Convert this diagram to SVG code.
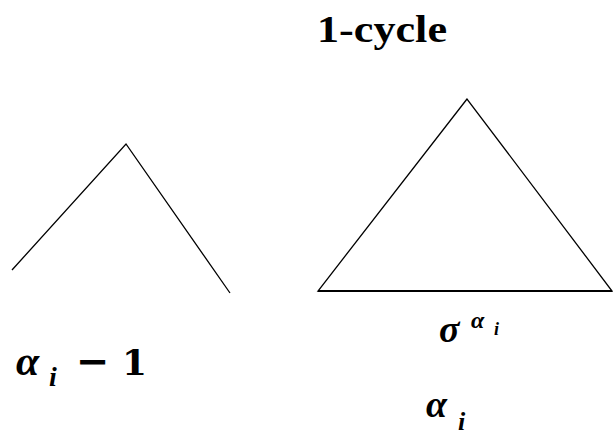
<svg xmlns="http://www.w3.org/2000/svg" width="613" height="436" viewBox="0 0 613 436">
<style>
.ln{fill:none;stroke:#000;stroke-width:1.3;stroke-linejoin:miter}
.s{font-family:'Liberation Serif','Times New Roman',Times,serif;font-weight:bold;fill:#000}
.d{font-family:'DejaVu Serif',serif;font-weight:bold;fill:#000}
</style>
<rect width="613" height="436" fill="#fff"/>
<g id="title"><text class="s" x="317" y="42" font-size="38" textLength="130" lengthAdjust="spacingAndGlyphs">1-cycle</text></g>
<g id="connectors">
<polyline class="ln" points="12,270 126,144 230,293"/>
<polygon class="ln" points="467,99 318,291 612,291"/>
<line x1="318" y1="291" x2="612" y2="291" stroke="#000" stroke-width="2"/>
</g>
<g id="label-left">
<text class="s" font-style="italic" x="16" y="375" font-size="42">α</text>
<text class="s" font-style="italic" x="49" y="386" font-size="28">i</text>
<text class="d" x="76" y="375" font-size="40">−</text>
<text class="d" x="122" y="375" font-size="36">1</text>
</g>
<g id="label-sigma" class="s" font-style="italic">
<text x="439" y="342" font-size="38">σ</text>
<text x="471" y="328" font-size="24">α</text>
<text x="494" y="335" font-size="18">i</text>
</g>
<g id="label-alpha" class="s" font-style="italic">
<text x="426" y="417" font-size="38">α</text>
<text x="458" y="430" font-size="26">i</text>
</g>
</svg>
